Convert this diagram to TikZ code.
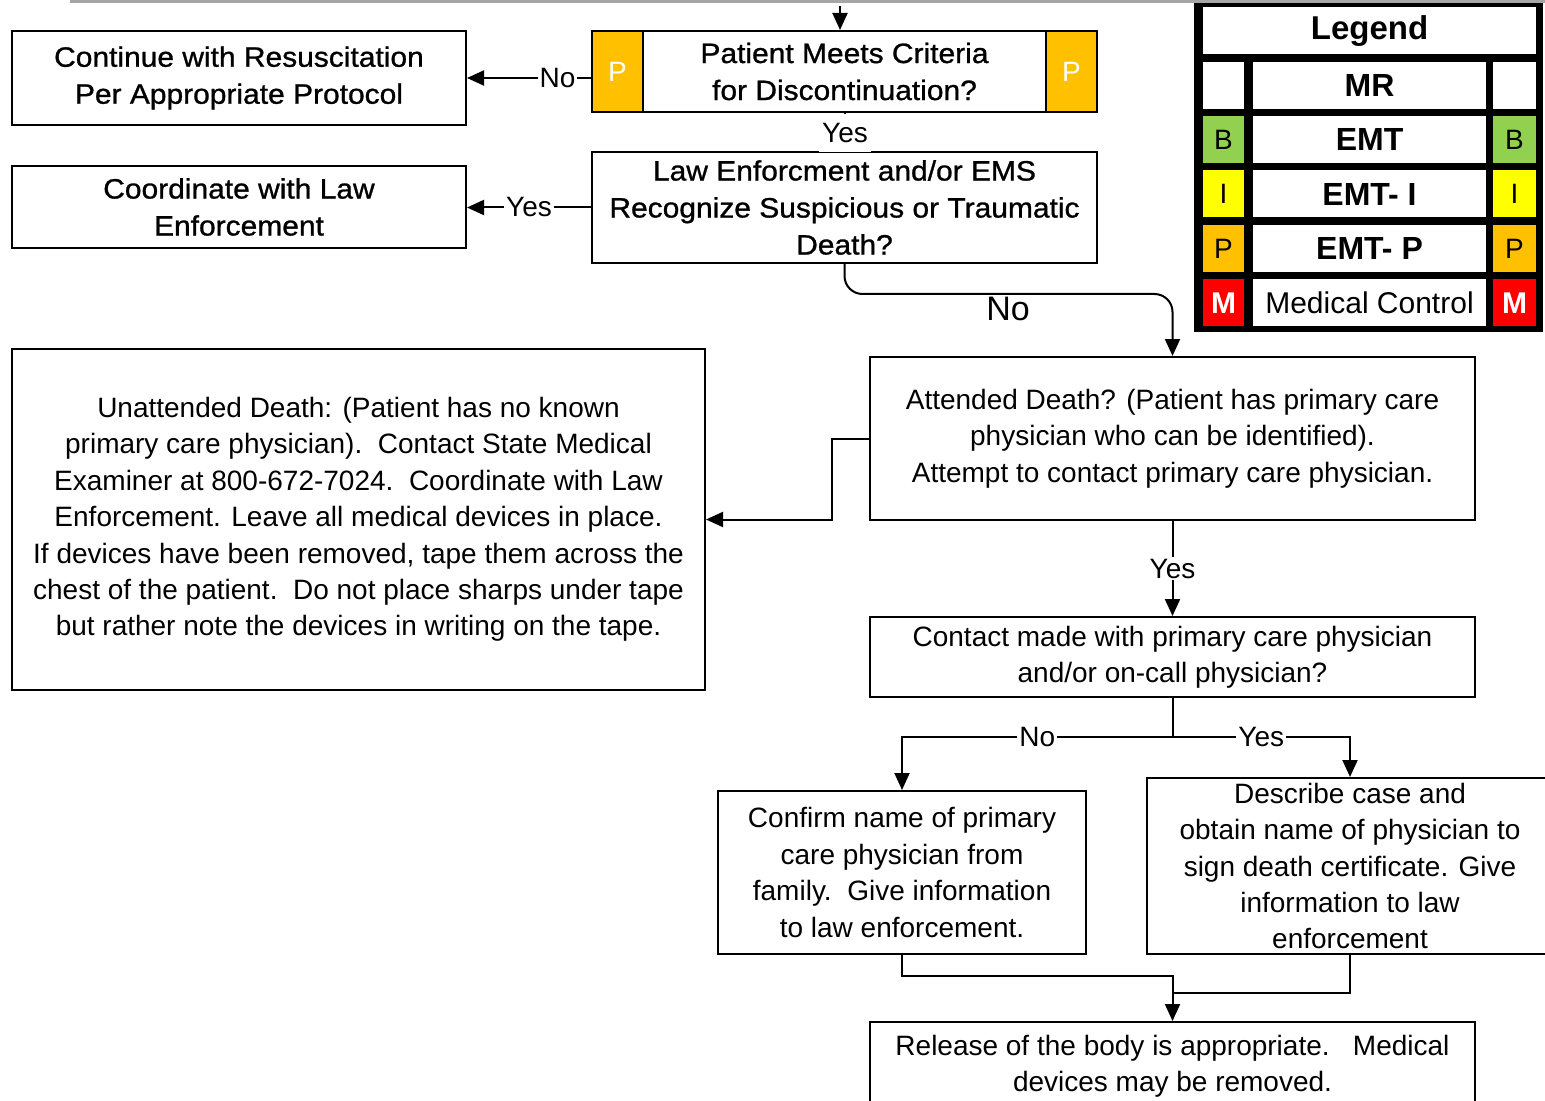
\documentclass[tikz,border=0pt]{standalone}
\usepackage{fontspec}
\setmainfont{Liberation Sans}
\newfontfamily\narrowfont[FakeStretch=1.07,FakeBold=1]{Liberation Sans}
\usetikzlibrary{arrows.meta}
\definecolor{pOrange}{HTML}{FFC000}
\definecolor{bGreen}{HTML}{92D050}
\definecolor{iYellow}{HTML}{FFFF00}
\definecolor{mRed}{HTML}{FF0000}
\begin{document}
\begin{tikzpicture}[x=0.5pt,y=-0.5pt,
  box/.style={draw, line width=1pt, inner sep=0pt, align=center, fill=white,
    font=\fontsize{14}{18.2}\selectfont},
  tbox/.style={box, font=\narrowfont\fontsize{14}{18.5}\selectfont},
  arr/.style={line width=1pt, -{Triangle[length=8.5pt,width=7.5pt]}},
  conn/.style={line width=1pt},
  lbl/.style={fill=white, inner sep=1pt, font=\fontsize{14}{16}\selectfont},
  tag/.style={inner sep=0pt, minimum width=25.5pt, minimum height=40.5pt, fill=pOrange, draw, line width=1pt,
    text=white, font=\fontsize{14}{16}\selectfont},
  lcell/.style={inner sep=0pt, minimum height=23.5pt, font=\fontsize{14}{16}\selectfont},
  lmid/.style={lcell, fill=white, minimum width=116.5pt, font=\bfseries\fontsize{16}{18}\selectfont},
]
\useasboundingbox (0,0) rectangle (1545,1101);
\fill[white] (0,0) rectangle (1545,1101);
\draw[gray!70, line width=1.5pt] (70,2) -- (1545,2);

% boxes
\node[tbox, minimum width=227pt, minimum height=47pt] (cont) at (239,78)
  {Continue with Resuscitation\\Per Appropriate Protocol};
\node[tbox, minimum width=252.5pt, minimum height=40.5pt] (pmc) at (844.5,71.5)
  {Patient Meets Criteria\\for Discontinuation?};
\node[tag] (pl) at (617.5,71.5) {P};
\node[tag] (pr) at (1071.5,71.5) {P};
\node[tbox, minimum width=252.5pt, minimum height=55.5pt] (law) at (844.5,207.5)
  {Law Enforcment and/or EMS\\Recognize Suspicious or Traumatic\\Death?};
\node[tbox, minimum width=227pt, minimum height=41pt] (coord) at (239,207)
  {Coordinate with Law\\Enforcement};
\node[box, minimum width=346.5pt, minimum height=170.5pt] (unatt) at (358.5,519.5)
  {Unattended Death: (Patient has no known\\primary care physician).\ \ Contact State Medical\\Examiner at 800-672-7024.\ \ Coordinate with Law\\Enforcement. Leave all medical devices in place.\\If devices have been removed, tape them across the\\chest of the patient.\ \ Do not place sharps under tape\\but rather note the devices in writing on the tape.};
\node[box, minimum width=302.5pt, minimum height=81.5pt] (att) at (1172.5,438.5)
  {Attended Death? (Patient has primary care\\physician who can be identified).\\Attempt to contact primary care physician.};
\node[box, minimum width=302.5pt, minimum height=40pt] (contact) at (1172.5,657)
  {Contact made with primary care physician\\and/or on-call physician?};
\node[box, minimum width=184pt, minimum height=81.5pt] (confirm) at (902,872.5)
  {Confirm name of primary\\care physician from\\family.\ \ Give information\\to law enforcement.};
\node[box, minimum width=203pt, minimum height=88pt, fill=none] (describe) at (1350,866)
  {Describe case and\\obtain name of physician to\\sign death certificate. Give\\information to law\\enforcement};
\node[box, minimum width=302.5pt, minimum height=44pt] (release) at (1172.5,1066)
  {Release of the body is appropriate.\ \ \ Medical\\devices may be removed.};

% connectors
\coordinate (topin) at (840,6);
\draw[arr] (topin) -- (topin |- pmc.north);
\draw[arr] (pmc.west |- cont.east) -- node[lbl, pos=0.27] {No} (cont.east);
\draw[conn] (pmc.south) -- (law.north);
\node[lbl, minimum height=19pt, minimum width=26pt, inner sep=0pt] (yes1) at (845,133.5) {Yes};
\draw[arr] (law.west) -- node[lbl] {Yes} (coord.east |- law.west);
\draw[arr, rounded corners=9pt] (law.south) -- ++(0,30) -| (att.north);
\node[font=\fontsize{17}{19}\selectfont] (nolbl) at (1008,309) {No};
\draw[arr] (att.west) -- ++(-37,0) |- (unatt.east);
\draw[arr] (att.south) -- node[lbl] {Yes} (contact.north);
\coordinate (split) at (1172.5,737);
\draw[arr] (contact.south) -- (split) -| node[lbl, pos=0.25] {No} (confirm.north);
\draw[arr] (split) -| node[lbl, pos=0.25] {Yes} (describe.north);
\draw[arr] (confirm.south) -- ++(0,21) -| (release.north);
\coordinate (join) at (1172.5,993);
\draw[conn] (describe.south) |- (join);

% legend
\fill[black] (1194,3) rectangle (1543,332);
\node[lcell, fill=white, minimum width=166.5pt, font=\bfseries\fontsize{16.5}{18}\selectfont] (lg) at (1369.5,31) {Legend};
\node[lmid] (lmr) at (1369.5,85.5) {MR};
\node[lcell, fill=white, minimum width=20.5pt] (lmrl) at (1223.5,85.5) {};
\node[lcell, fill=white, minimum width=21.5pt] (lmrr) at (1514.5,85.5) {};
\node[lmid] (lemt) at (1369.5,139.5) {EMT};
\node[lcell, fill=bGreen, minimum width=20.5pt] (lbl1) at (1223.5,139.5) {B};
\node[lcell, fill=bGreen, minimum width=21.5pt] (lbr1) at (1514.5,139.5) {B};
\node[lmid] (lemti) at (1369.5,194) {EMT- I};
\node[lcell, fill=iYellow, minimum width=20.5pt] (lil) at (1223.5,194) {I};
\node[lcell, fill=iYellow, minimum width=21.5pt] (lir) at (1514.5,194) {I};
\node[lmid] (lemtp) at (1369.5,248.5) {EMT- P};
\node[lcell, fill=pOrange, minimum width=20.5pt] (lpl) at (1223.5,248.5) {P};
\node[lcell, fill=pOrange, minimum width=21.5pt] (lpr) at (1514.5,248.5) {P};
\node[lmid, font=\fontsize{15}{17}\selectfont] (lmc) at (1369.5,303) {Medical Control};
\node[lcell, fill=mRed, minimum width=20.5pt, text=white, font=\bfseries\fontsize{15}{17}\selectfont] (lml) at (1223.5,303) {M};
\node[lcell, fill=mRed, minimum width=21.5pt, text=white, font=\bfseries\fontsize{15}{17}\selectfont] (lmr2) at (1514.5,303) {M};
\end{tikzpicture}
\end{document}
